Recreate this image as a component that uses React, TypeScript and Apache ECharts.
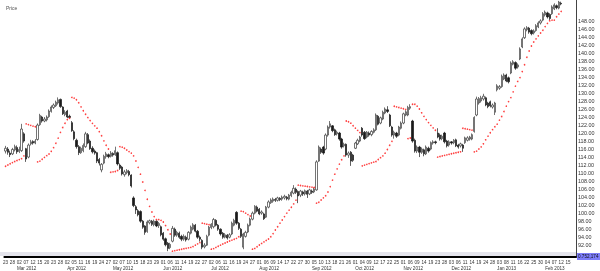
import React, { useEffect, useRef } from "react";
import * as echarts from "echarts";

// [open, close, low, high] per trading day from 23 Feb 2012
const ohlc: number[][] = [
  [115.5, 116.2, 114.9, 116.8], [116.0, 115.2, 114.6, 116.5], [115.0, 114.6, 114.0, 115.6], [114.8, 115.9, 114.5, 116.3],
  [115.8, 116.6, 115.4, 117.1], [116.4, 115.3, 114.8, 116.9], [115.4, 115.9, 115.0, 116.6], [115.6, 121.0, 115.3, 122.3],
  [119.8, 118.0, 117.6, 120.2], [116.1, 113.5, 112.8, 116.3], [114.0, 117.0, 113.7, 117.4], [117.3, 117.8, 116.9, 118.3],
  [117.9, 117.5, 117.1, 118.2], [117.5, 118.0, 117.2, 118.5], [118.4, 122.0, 118.1, 122.4], [122.1, 124.4, 121.8, 124.8],
  [124.0, 123.0, 122.6, 124.3], [123.0, 123.5, 122.7, 124.0], [123.3, 124.0, 122.9, 124.4], [124.1, 125.5, 123.8, 125.9],
  [125.4, 126.5, 125.1, 126.9], [126.4, 127.0, 126.0, 127.4], [126.8, 127.7, 126.5, 128.1], [127.5, 128.3, 127.1, 128.9],
  [128.4, 126.6, 126.3, 128.6], [126.5, 124.8, 124.5, 126.7], [124.6, 125.2, 124.2, 125.7], [125.5, 124.0, 123.7, 125.8],
  [124.2, 123.9, 123.8, 124.6], [122.6, 120.6, 120.3, 123.0], [120.3, 118.6, 118.2, 120.7], [118.2, 116.6, 116.1, 118.6],
  [116.6, 115.1, 114.5, 117.0], [115.1, 116.2, 114.8, 116.6], [115.6, 116.9, 115.2, 117.4], [116.6, 119.8, 116.3, 120.3],
  [119.6, 117.5, 117.2, 120.0], [118.0, 116.1, 115.8, 118.4], [116.2, 115.3, 114.9, 116.7], [115.5, 115.0, 114.6, 115.9],
  [115.1, 113.0, 112.5, 115.3], [113.4, 112.5, 111.9, 113.8], [110.8, 112.2, 110.2, 112.5], [112.5, 114.2, 112.2, 114.6],
  [114.1, 114.8, 113.6, 115.3], [114.6, 114.1, 113.7, 114.9], [114.2, 115.0, 113.9, 115.5], [114.9, 114.5, 114.1, 115.2],
  [114.6, 115.6, 114.3, 116.6], [115.1, 112.3, 111.9, 115.4], [112.0, 111.2, 110.8, 112.4], [111.5, 109.8, 109.4, 111.8],
  [109.6, 110.3, 109.1, 110.8], [110.1, 110.6, 109.7, 111.0], [110.4, 109.6, 109.2, 110.8], [109.5, 106.8, 106.4, 109.7],
  [103.8, 101.9, 101.5, 104.2], [101.6, 100.8, 99.8, 102.0], [100.6, 99.6, 99.2, 101.0], [100.4, 98.0, 97.6, 100.7],
  [98.0, 96.5, 96.1, 98.3], [96.8, 95.2, 94.6, 97.0], [95.4, 97.8, 95.1, 98.2], [97.6, 98.1, 97.2, 98.4],
  [98.0, 97.2, 96.8, 98.3], [97.1, 98.0, 96.7, 98.4], [98.0, 96.8, 96.5, 98.2], [96.9, 97.4, 96.3, 97.8],
  [96.6, 94.6, 94.2, 96.9], [95.0, 93.5, 93.1, 95.3], [93.6, 92.1, 91.7, 93.9], [92.5, 91.2, 90.5, 92.8],
  [91.4, 92.2, 91.0, 92.6], [93.0, 96.2, 92.7, 96.8], [96.0, 94.5, 94.1, 96.4], [94.5, 95.2, 94.1, 95.6],
  [95.0, 94.0, 93.6, 95.4], [94.2, 93.5, 93.0, 94.6], [93.5, 94.2, 93.1, 94.7], [94.0, 93.3, 92.9, 94.4],
  [93.5, 95.2, 93.2, 95.5], [95.0, 96.5, 94.7, 96.9], [96.0, 97.1, 95.7, 97.5], [97.0, 95.5, 95.2, 97.3],
  [95.5, 94.0, 93.6, 95.8], [94.0, 93.5, 92.9, 94.4], [93.2, 91.5, 91.0, 93.5], [91.6, 92.0, 91.2, 92.5],
  [92.0, 94.2, 91.8, 94.6], [94.5, 96.5, 94.2, 96.8], [96.4, 97.2, 96.0, 97.5], [96.6, 98.4, 96.2, 98.8],
  [98.2, 97.0, 96.7, 98.5], [97.0, 96.0, 95.6, 97.3], [96.0, 94.8, 94.4, 96.2], [95.0, 94.0, 93.6, 95.3],
  [94.0, 94.6, 93.7, 95.0], [94.5, 93.8, 93.4, 94.8], [94.0, 94.6, 93.7, 95.0], [94.8, 97.5, 94.5, 97.9],
  [97.0, 98.2, 96.7, 98.6], [100.2, 97.5, 97.1, 100.5], [97.5, 96.2, 95.8, 97.8], [96.0, 94.2, 93.8, 96.3],
  [91.5, 94.8, 91.0, 95.1], [94.2, 95.2, 93.9, 95.6], [95.3, 97.0, 95.0, 97.4], [97.0, 98.5, 96.7, 98.9],
  [98.5, 100.0, 98.2, 100.4], [100.0, 101.7, 99.7, 102.0], [101.5, 100.5, 100.2, 101.9], [101.0, 99.8, 99.5, 101.3],
  [100.0, 100.3, 99.6, 100.7], [99.8, 98.6, 98.3, 100.1], [99.0, 101.5, 98.8, 101.8], [101.5, 102.8, 101.2, 103.2],
  [102.6, 103.3, 102.3, 103.7], [103.0, 103.5, 102.6, 103.9], [103.4, 103.2, 102.8, 103.8], [103.2, 103.8, 102.9, 104.1],
  [103.7, 103.4, 103.0, 104.0], [103.5, 104.0, 103.1, 104.4], [103.8, 104.2, 103.4, 104.6], [104.0, 103.6, 103.2, 104.3],
  [103.5, 104.5, 103.2, 104.8], [104.4, 105.2, 104.0, 105.6], [105.0, 106.2, 104.7, 107.0], [106.0, 105.2, 104.8, 106.4],
  [105.4, 104.3, 102.5, 105.7], [104.5, 105.5, 104.0, 105.8], [105.3, 104.8, 104.3, 105.6], [104.8, 105.6, 104.4, 105.9],
  [105.5, 104.7, 103.8, 105.8], [104.8, 105.8, 104.5, 106.1], [105.5, 105.2, 104.8, 105.9], [105.3, 106.0, 105.0, 106.4],
  [105.8, 112.8, 105.6, 113.2], [113.0, 116.5, 112.8, 116.9], [116.0, 115.2, 114.8, 116.4], [116.5, 115.0, 114.6, 116.8],
  [116.0, 119.5, 115.7, 119.9], [119.5, 121.5, 119.1, 121.9], [121.5, 122.3, 121.1, 123.0], [121.8, 120.6, 120.2, 122.0],
  [120.8, 119.6, 119.3, 121.1], [119.8, 120.2, 119.4, 120.6], [120.0, 118.5, 118.1, 120.3], [118.5, 116.5, 116.1, 118.8],
  [116.8, 117.2, 116.4, 117.6], [117.2, 114.5, 114.1, 117.4], [114.5, 115.0, 113.8, 115.4], [115.2, 113.0, 111.8, 115.5],
  [114.5, 113.2, 112.8, 114.8], [116.2, 117.5, 116.0, 117.8], [117.3, 118.2, 117.0, 118.6], [118.0, 119.0, 117.7, 119.3],
  [121.2, 119.5, 119.1, 121.5], [120.2, 118.6, 118.3, 120.5], [119.0, 120.2, 118.7, 120.5], [120.0, 119.5, 119.1, 120.4],
  [119.6, 120.4, 119.2, 120.7], [120.2, 120.8, 119.9, 121.2], [120.8, 124.5, 120.5, 124.9], [124.2, 122.2, 121.9, 124.5],
  [122.5, 123.8, 122.2, 124.1], [123.5, 125.2, 123.2, 125.6], [125.0, 126.0, 124.7, 126.4], [125.8, 125.4, 125.0, 126.7],
  [124.5, 121.8, 121.5, 124.8], [121.5, 119.5, 119.1, 121.8], [119.5, 120.2, 118.6, 120.6], [120.0, 119.2, 118.8, 120.3],
  [119.5, 121.5, 119.2, 121.8], [121.2, 122.5, 120.9, 122.9], [122.5, 124.8, 122.2, 125.1], [124.5, 125.3, 124.2, 125.7],
  [124.5, 126.4, 124.2, 126.8], [126.2, 126.6, 125.8, 127.2], [123.0, 118.0, 117.6, 123.3], [118.2, 115.5, 115.1, 118.6],
  [115.5, 116.5, 115.0, 116.9], [116.5, 115.2, 114.0, 116.8], [115.2, 116.0, 114.8, 116.4], [115.8, 114.8, 114.2, 116.1],
  [114.8, 116.5, 114.5, 116.9], [116.2, 115.5, 115.1, 116.6], [116.0, 117.6, 115.7, 117.9], [117.5, 117.8, 117.1, 118.2],
  [117.8, 117.6, 117.2, 118.1], [120.0, 119.0, 118.7, 121.2], [119.5, 118.5, 118.1, 119.9], [118.6, 119.2, 118.2, 119.6],
  [120.0, 117.8, 117.4, 120.3], [118.0, 116.8, 116.4, 118.3], [117.0, 117.8, 116.6, 118.2], [117.8, 117.5, 117.1, 118.0],
  [117.6, 118.2, 117.2, 118.5], [118.3, 116.8, 116.5, 118.6], [117.0, 116.5, 116.1, 117.3], [116.8, 117.3, 116.4, 117.6],
  [117.0, 116.2, 115.3, 117.3], [117.6, 118.8, 117.3, 119.1], [118.2, 118.8, 117.9, 119.2], [118.5, 119.0, 118.1, 119.3],
  [118.5, 119.6, 118.2, 119.9], [120.4, 123.9, 120.1, 124.2], [124.5, 128.5, 124.2, 129.1], [127.5, 128.6, 127.1, 129.0],
  [128.0, 128.8, 127.6, 129.3], [128.5, 129.2, 128.1, 129.8], [128.8, 127.0, 126.7, 129.1], [127.5, 126.6, 126.2, 127.8],
  [127.8, 126.8, 126.4, 128.1], [126.5, 127.0, 126.1, 127.4], [125.2, 127.5, 124.5, 127.8], [130.8, 131.8, 130.4, 132.2],
  [131.2, 131.6, 130.8, 132.0], [131.6, 134.2, 131.3, 134.6], [133.5, 134.5, 133.2, 134.9], [134.5, 133.0, 132.7, 134.8],
  [133.8, 132.8, 132.4, 134.1], [135.0, 137.5, 134.7, 137.9], [137.2, 137.8, 136.9, 138.2], [137.6, 136.2, 135.8, 137.9],
  [136.5, 137.0, 136.1, 137.4], [138.5, 141.0, 138.2, 141.4], [141.5, 143.5, 141.2, 143.9], [143.8, 146.0, 143.5, 146.4],
  [145.8, 146.3, 145.4, 146.7], [146.2, 145.2, 144.8, 146.5], [145.6, 144.8, 144.4, 145.9], [145.0, 145.5, 144.6, 145.9],
  [145.6, 146.8, 145.3, 147.2], [146.5, 147.5, 146.2, 147.9], [147.5, 148.0, 147.1, 148.4], [148.2, 149.8, 147.9, 150.2],
  [149.5, 150.2, 149.1, 150.6], [150.0, 149.0, 148.6, 150.3], [149.6, 148.6, 148.2, 149.9], [149.8, 151.5, 149.5, 151.9],
  [151.0, 152.0, 150.7, 152.4], [151.8, 151.3, 150.9, 152.1], [151.2, 152.7, 150.9, 153.0], [152.4, 152.24, 151.9, 152.8],
];

const lastClose = 152.24;
const lastSar = 150.47;
const priceTicks = [92, 94, 96, 98, 100, 102, 104, 106, 108, 110, 112, 114, 116, 118, 120, 122, 124, 126, 128, 130, 132, 134, 136, 138, 140, 142, 144, 146, 148];
const holidays = ["2012-04-06", "2012-05-28", "2012-07-04", "2012-09-03", "2012-10-29", "2012-10-30", "2012-11-22", "2012-12-25", "2013-01-01", "2013-01-21", "2013-02-18"];
const monthNames = ["Jan", "Feb", "Mar", "Apr", "May", "Jun", "Jul", "Aug", "Sep", "Oct", "Nov", "Dec"];
const firstDay = "2012-02-23";
const lastLabelDay = "2013-02-15";
const slotCount = 250;
// Parabolic SAR parameters and state carried in from before the first bar
const sarParams = { start: 0.02, step: 0.02, max: 0.2 };
const sarSeed = { sar: 111.7, ep: 117.1, af: 0.06, up: true };

function tradingDays(n: number): Date[] {
  const out: Date[] = [];
  const d = new Date(firstDay + "T00:00:00Z");
  while (out.length < n) {
    const wd = d.getUTCDay();
    const key = d.toISOString().slice(0, 10);
    if (wd !== 0 && wd !== 6 && holidays.indexOf(key) < 0) out.push(new Date(d.getTime()));
    d.setUTCDate(d.getUTCDate() + 1);
  }
  return out;
}

function parabolicSar(rows: number[][]): number[] {
  const res: number[] = [];
  let { sar, ep, af, up } = sarSeed;
  for (let i = 0; i < rows.length; i++) {
    const lo = rows[i][2];
    const hi = rows[i][3];
    if (i > 0) {
      sar = sar + af * (ep - sar);
      const pl1 = rows[i - 1][2], pl2 = i > 1 ? rows[i - 2][2] : pl1;
      const ph1 = rows[i - 1][3], ph2 = i > 1 ? rows[i - 2][3] : ph1;
      if (up) {
        sar = Math.min(sar, pl1, pl2);
        if (lo < sar) { up = false; sar = ep; ep = lo; af = sarParams.start; }
        else if (hi > ep) { ep = hi; af = Math.min(af + sarParams.step, sarParams.max); }
      } else {
        sar = Math.max(sar, ph1, ph2);
        if (hi > sar) { up = true; sar = ep; ep = hi; af = sarParams.start; }
        else if (lo < ep) { ep = lo; af = Math.min(af + sarParams.step, sarParams.max); }
      }
    }
    res.push(sar);
  }
  return res;
}

const FONT = "Liberation Sans, Arial, sans-serif";

export default function App() {
  const ref = useRef<HTMLDivElement>(null);
  useEffect(() => {
    const chart = echarts.init(ref.current!, null, { renderer: "svg" });
    const days = tradingDays(slotCount);
    const cats = days.map((d) => d.toISOString().slice(0, 10));
    const lastLabelIdx = cats.indexOf(lastLabelDay);
    const monthStart = new Set<number>();
    days.forEach((d, i) => {
      if (i > 0 && d.getUTCMonth() !== days[i - 1].getUTCMonth()) monthStart.add(i);
    });
    const sar = parabolicSar(ohlc);
    chart.setOption({
      animation: false,
      title: { text: "Price", left: 1, top: 0, textStyle: { fontSize: 5, fontWeight: "normal", color: "#555", fontFamily: FONT } },
      grid: { left: 0, right: 24, top: 0, bottom: 13 },
      xAxis: [
        {
          type: "category", data: cats, boundaryGap: true,
          axisLine: { show: true, lineStyle: { color: "#000", width: 2 } },
          axisTick: { show: false },
          axisLabel: {
            interval: (i: number) => i % 3 === 0 && i <= lastLabelIdx, margin: 3, fontSize: 4.6, color: "#333", fontFamily: FONT,
            formatter: (v: string) => v.slice(8, 10),
          },
          splitLine: { show: false },
        },
        {
          type: "category", data: cats, boundaryGap: true, position: "bottom", gridIndex: 0,
          axisLine: { show: false }, axisTick: { show: false },
          axisLabel: {
            interval: (i: number) => monthStart.has(i), margin: 9, fontSize: 4.6, color: "#333", fontFamily: FONT, align: "left",
            formatter: (v: string) => monthNames[Number(v.slice(5, 7)) - 1] + " " + v.slice(0, 4),
          },
        },
      ],
      yAxis: {
        type: "value", position: "right", min: 89.05, max: 153.22,
        axisLine: { show: true, lineStyle: { color: "#444", width: 1 } },
        axisTick: { show: true, length: 1, customValues: priceTicks, lineStyle: { color: "#444" } },
        axisLabel: { customValues: priceTicks, formatter: (v: number) => v.toFixed(2), fontSize: 5.4, color: "#333", margin: 2, fontFamily: FONT },
        splitLine: { show: false },
      },
      series: [
        {
          type: "candlestick", data: ohlc, barWidth: 1.8,
          itemStyle: { color: "#ffffff", color0: "#1a1a1a", borderColor: "#3a3a3a", borderColor0: "#1a1a1a", borderWidth: 0.7 },
          markLine: {
            symbol: "none", silent: true,
            lineStyle: { opacity: 0 },
            data: [
              { yAxis: lastClose, label: { show: true, position: "end", distance: 1, formatter: lastClose.toFixed(2), backgroundColor: "#000", color: "#fff", fontSize: 5.4, padding: [1, 4, 1, 1], fontFamily: FONT } },
              { yAxis: lastSar, label: { show: true, position: "end", distance: 1, formatter: lastSar.toFixed(2), backgroundColor: "#ff0000", color: "#fff", fontSize: 5.4, padding: [1, 4, 1, 1], fontFamily: FONT } },
            ],
          },
        },
        {
          type: "scatter", data: sar.map((v, i) => [i, v]), symbol: "circle", symbolSize: 1.6,
          itemStyle: { color: "#ff1010" },
        },
      ],
      graphic: [
        { type: "rect", shape: { x: 0, y: 252, width: 576, height: 4 }, style: { fill: "#e4e4ec" }, silent: true },
        { type: "rect", shape: { x: 577, y: 253, width: 23, height: 7 }, style: { fill: "#7d7dfa" }, silent: true },
        { type: "text", x: 578, y: 254, style: { text: "0.752,174", fontSize: 4.6, fill: "#111", fontFamily: FONT }, silent: true },
      ],
    });
    return () => chart.dispose();
  }, []);
  return <div ref={ref} style={{ position: "fixed", left: 0, top: 0, width: 600, height: 271 }} />;
}
